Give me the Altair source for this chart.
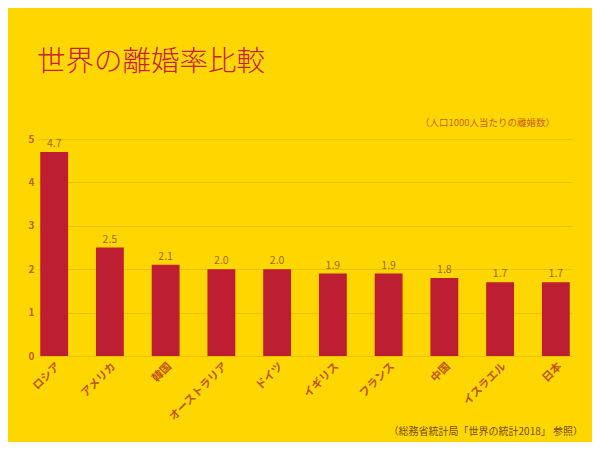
import altair as alt
import pandas as pd

countries = ["ロシア", "アメリカ", "韓国", "オーストラリア", "ドイツ", "イギリス", "フランス", "中国", "イスラエル", "日本"]
rates = [4.7, 2.5, 2.1, 2.0, 2.0, 1.9, 1.9, 1.8, 1.7, 1.7]
y_ticks = [0, 1, 2, 3, 4, 5]

df = pd.DataFrame({"country": countries, "rate": rates})

FONT = "Noto Sans CJK JP"
BG = "#FFD700"
BAR = "#BE1E32"
LABEL = "#C0561C"

W, H = 534, 217

base = alt.Chart(df)

x = alt.X("country:N", sort=countries, title=None,
          scale=alt.Scale(paddingInner=0.5, paddingOuter=0.04),
          axis=alt.Axis(labelAngle=-45, labelFont=FONT, labelFontSize=11, labelFontWeight="bold",
                        labelColor=LABEL, ticks=False, domain=False, labelPadding=4))
y = alt.Y("rate:Q", title=None, scale=alt.Scale(domain=[0, 5]),
          axis=alt.Axis(values=y_ticks, labelFont=FONT, labelFontSize=10, labelFontWeight="bold",
                        labelColor="#B5651D", ticks=False, domain=False, labelPadding=4,
                        gridColor="#E9C300", gridWidth=1))

bars = base.mark_bar(color=BAR).encode(x=x, y=y)

values = base.mark_text(dy=-8, font=FONT, fontSize=10.5, color="#A0691E").encode(
    x=alt.X("country:N", sort=countries),
    y="rate:Q",
    text=alt.Text("rate:Q", format=".1f"),
)

unit = alt.Chart(pd.DataFrame({"t": ["（人口1000人当たりの離婚数）"]})).mark_text(
    font=FONT, fontSize=9.5, color="#C8641E", align="right", baseline="middle"
).encode(x=alt.value(517), y=alt.value(-16), text="t:N")

source = alt.Chart(pd.DataFrame({"t": ["（総務省統計局「世界の統計2018」 参照）"]})).mark_text(
    font=FONT, fontSize=10, color="#7A4A10", align="right", baseline="middle"
).encode(x=alt.value(545), y=alt.value(293), text="t:N")

chart = alt.layer(bars, values, unit, source).properties(
    width=W, height=H,
    background=BG,
    autosize=alt.AutoSizeParams(type="none"),
    padding={"left": 30, "top": 131, "right": 20, "bottom": 86},
    title=alt.TitleParams("世界の離婚率比較", anchor="start", font=FONT, fontSize=28.5,
                          fontWeight=300, color="#C8203A", offset=42, dx=9),
).configure_view(stroke=None)

chart.save("out.html", embed_options={"renderer": "svg", "actions": False})
